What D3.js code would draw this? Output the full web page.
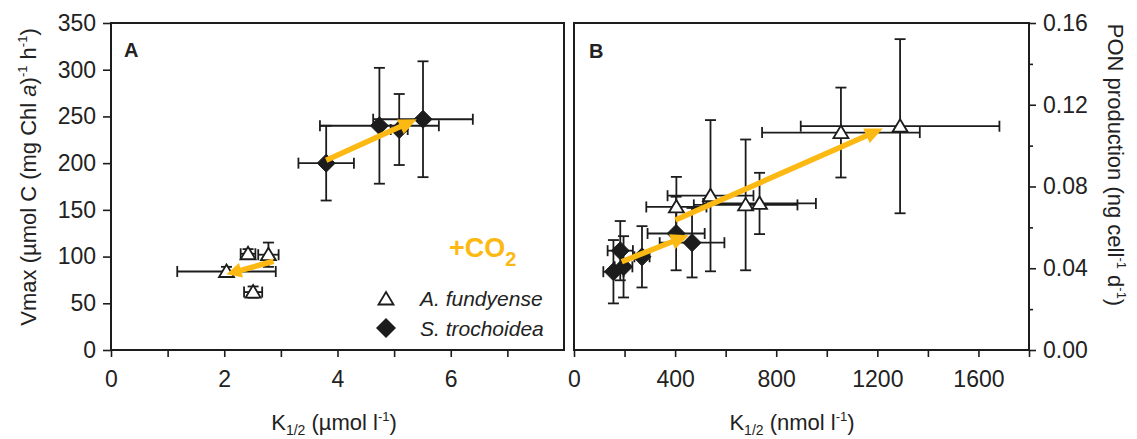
<!DOCTYPE html>
<html><head><meta charset="utf-8">
<script src="https://cdn.jsdelivr.net/npm/d3@7"></script>
<style>
body{margin:0;background:#fff}
svg{display:block}
text{font-family:Arial,"Liberation Sans",sans-serif;fill:#222}
</style>
</head><body>
<svg id="c" width="1137" height="439"></svg>
<script>
// ---------- Panel A data: Vmax vs K1/2 (µmol l-1) ----------
const aFundK     = [2.04, 2.42, 2.78, 2.51];
const aFundKErr  = [0.87, 0.13, 0.18, 0.16];
const aFundV     = [84, 103, 102, 62];
const aFundVErr  = [5, 5, 13, 6];
const aTrocK     = [3.80, 4.74, 5.09, 5.51];
const aTrocKErr  = [0.49, 1.05, 0.15, 0.88];
const aTrocV     = [200, 240, 236, 247];
const aTrocVErr  = [40, 62, 38, 62];

// ---------- Panel B data: PON production vs K1/2 (nmol l-1) ----------
const bFundK     = [405, 540, 679, 734, 1056, 1290];
const bFundKErr  = [119, 170, 205, 223, 312, 393];
const bFundP     = [0.0700, 0.0755, 0.0710, 0.0717, 0.1064, 0.1095];
const bFundPErr  = [0.0147, 0.0370, 0.0320, 0.0150, 0.0220, 0.0426];
const bTrocK     = [156, 183, 196, 269, 404, 467];
const bTrocKErr  = [40, 50, 35, 30, 113, 128];
const bTrocP     = [0.0383, 0.0486, 0.0407, 0.0456, 0.0570, 0.0525];
const bTrocPErr  = [0.0155, 0.0145, 0.0150, 0.0150, 0.0180, 0.0170];

// CO2 arrows (data coordinates: [start],[end])
const arrowATroc = [[3.80, 203], [5.40, 247]];
const arrowAFund = [[2.87, 95], [2.04, 81]];
const arrowBTroc = [[189, 0.0432], [454, 0.0562]];
const arrowBFund = [[401, 0.0636], [1222, 0.1084]];

// ticks
const aYTicks = [0, 50, 100, 150, 200, 250, 300, 350];
const aXTicks = [0, 1, 2, 3, 4, 5, 6, 7];
const aXLabels = [0, 2, 4, 6];
const bXTicks = [0, 200, 400, 600, 800, 1000, 1200, 1400, 1600, 1800];
const bXLabels = [0, 400, 800, 1200, 1600];
const bYMajor = [0, 0.04, 0.08, 0.12, 0.16];
const bYMinor = [0.02, 0.06, 0.10, 0.14];

const legendNames = ["A. fundyense", "S. trochoidea"];

// ---------- drawing ----------
const svg = d3.select("#c");
const INK = "#1c1c1c", GOLD = "#FDB913";
const FS = 23;

const plotTop = 23, plotBottom = 350;
const xA = d3.scaleLinear([0, 8], [111, 564]);
const yA = d3.scaleLinear([0, 350], [plotBottom, plotTop]);
const xB = d3.scaleLinear([0, 1800], [574, 1029]);
const yB = d3.scaleLinear([0, 0.16], [plotBottom, plotTop]);

function styleAxis(g, fs) {
  g.select(".domain").remove();
  g.selectAll(".tick line").attr("stroke", INK).attr("stroke-width", 1.6);
  g.selectAll(".tick text").attr("font-size", fs).attr("fill", "#222")
    .attr("font-family", "Arial, 'Liberation Sans', sans-serif");
}

// Panel A axes
svg.append("g").attr("transform", `translate(${xA.range()[0]},0)`)
  .call(d3.axisLeft(yA).tickValues(aYTicks).tickSize(8).tickPadding(7).tickFormat(d3.format("d")))
  .call(g => styleAxis(g, FS));
svg.append("g").attr("transform", `translate(0,${plotBottom})`)
  .call(d3.axisBottom(xA).tickValues(aXTicks).tickSize(7).tickPadding(14)
    .tickFormat(d => aXLabels.includes(d) ? d3.format("d")(d) : ""))
  .call(g => styleAxis(g, FS));

// Panel B axes
svg.append("g").attr("transform", `translate(0,${plotBottom})`)
  .call(d3.axisBottom(xB).tickValues(bXTicks).tickSize(7).tickPadding(14)
    .tickFormat(d => bXLabels.includes(d) ? d3.format("d")(d) : ""))
  .call(g => styleAxis(g, FS));
svg.append("g").attr("transform", `translate(${xB.range()[1]},0)`)
  .call(d3.axisRight(yB).tickValues(bYMajor).tickSize(7).tickPadding(7).tickFormat(d3.format(".2f")))
  .call(g => styleAxis(g, FS));
svg.append("g").attr("transform", `translate(${xB.range()[1]},0)`)
  .call(d3.axisRight(yB).tickValues(bYMinor).tickSize(4).tickFormat(""))
  .call(g => styleAxis(g, FS));

// frames
[[xA, yA], [xB, yB]].forEach(([x, y]) => {
  svg.append("rect")
    .attr("x", x.range()[0]).attr("y", y.range()[1])
    .attr("width", x.range()[1] - x.range()[0])
    .attr("height", y.range()[0] - y.range()[1])
    .attr("fill", "none").attr("stroke", INK).attr("stroke-width", 2);
});

// error bars
function errorBars(g, x, y, xs, xe, ys, ye) {
  const cap = 5.5;
  xs.forEach((xv, i) => {
    const px = x(xv), py = y(ys[i]);
    const xl = x(xv - xe[i]), xr = x(xv + xe[i]);
    const yt = y(ys[i] + ye[i]), yb = y(ys[i] - ye[i]);
    const segs = [
      [xl, py, xr, py], [xl, py - cap, xl, py + cap], [xr, py - cap, xr, py + cap],
      [px, yt, px, yb], [px - cap, yt, px + cap, yt], [px - cap, yb, px + cap, yb]
    ];
    g.selectAll(null).data(segs).join("line")
      .attr("x1", d => d[0]).attr("y1", d => d[1]).attr("x2", d => d[2]).attr("y2", d => d[3])
      .attr("stroke", INK).attr("stroke-width", 1.8);
  });
}
const triPath = "M0,-7L7.5,5.5L-7.5,5.5Z";
const diaPath = r => `M0,${-r}L${r},0L0,${r}L${-r},0Z`;

function markers(g, x, y, xs, ys, kind) {
  g.selectAll(null).data(xs.map((v, i) => [v, ys[i]])).join("path")
    .attr("transform", d => `translate(${x(d[0])},${y(d[1])})`)
    .attr("d", kind === "tri" ? triPath : diaPath(9))
    .attr("fill", kind === "tri" ? "#fff" : INK)
    .attr("stroke", INK).attr("stroke-width", kind === "tri" ? 1.8 : 1)
    .attr("stroke-linejoin", "miter");
}

function arrow(g, x, y, pts, hl, hw) {
  const x0 = x(pts[0][0]), y0 = y(pts[0][1]);
  const x1 = x(pts[1][0]), y1 = y(pts[1][1]);
  const dx = x1 - x0, dy = y1 - y0, L = Math.hypot(dx, dy), ux = dx / L, uy = dy / L;
  const bx = x1 - ux * hl, by = y1 - uy * hl;
  g.append("line").attr("x1", x0).attr("y1", y0).attr("x2", bx + ux * 2).attr("y2", by + uy * 2)
    .attr("stroke", GOLD).attr("stroke-width", 5.5);
  g.append("path")
    .attr("d", `M${x1},${y1}L${bx - uy * hw},${by + ux * hw}L${bx + uy * hw},${by - ux * hw}Z`)
    .attr("fill", GOLD);
}

const gA = svg.append("g"), gB = svg.append("g");
errorBars(gA, xA, yA, aFundK, aFundKErr, aFundV, aFundVErr);
errorBars(gA, xA, yA, aTrocK, aTrocKErr, aTrocV, aTrocVErr);
markers(gA, xA, yA, aTrocK, aTrocV, "dia");
markers(gA, xA, yA, aFundK, aFundV, "tri");
arrow(gA, xA, yA, arrowATroc, 18, 8);
arrow(gA, xA, yA, arrowAFund, 15, 7.5);

errorBars(gB, xB, yB, bTrocK, bTrocKErr, bTrocP, bTrocPErr);
errorBars(gB, xB, yB, bFundK, bFundKErr, bFundP, bFundPErr);
markers(gB, xB, yB, bTrocK, bTrocP, "dia");
markers(gB, xB, yB, bFundK, bFundP, "tri");
arrow(gB, xB, yB, arrowBTroc, 18, 8);
arrow(gB, xB, yB, arrowBFund, 18, 8);

// panel letters
svg.append("text").attr("x", 124).attr("y", 57).attr("font-size", 20).attr("font-weight", "bold").text("A");
svg.append("text").attr("x", 589).attr("y", 58).attr("font-size", 20).attr("font-weight", "bold").text("B");

// +CO2
const co2 = svg.append("text").attr("x", 449).attr("y", 257).attr("font-size", 27)
  .attr("font-weight", "bold").style("fill", GOLD);
co2.append("tspan").text("+CO");
co2.append("tspan").attr("font-size", 20).attr("dy", 9).text("2");

// legend
const lg = svg.append("g");
lg.append("path").attr("transform", "translate(386,299)").attr("d", triPath)
  .attr("fill", "#fff").attr("stroke", INK).attr("stroke-width", 1.8);
lg.append("path").attr("transform", "translate(386,328)").attr("d", diaPath(10))
  .attr("fill", INK);
lg.append("text").attr("x", 420).attr("y", 306).attr("font-size", 21).attr("font-style", "italic").text(legendNames[0]);
lg.append("text").attr("x", 420).attr("y", 336).attr("font-size", 21).attr("font-style", "italic").text(legendNames[1]);

// axis titles
function kTitle(cx, unit) {
  const t = svg.append("text").attr("x", cx).attr("y", 430).attr("font-size", 22).attr("text-anchor", "middle");
  t.append("tspan").text("K");
  t.append("tspan").attr("font-size", 14).attr("dy", 5).text("1/2");
  t.append("tspan").attr("dy", -5).text(` (${unit} l`);
  t.append("tspan").attr("font-size", 13).attr("dy", -9).text("-1");
  t.append("tspan").attr("dy", 9).text(")");
}
kTitle(334, "µmol");
kTitle(792, "nmol");

const yt = svg.append("text").attr("transform", "translate(36,177) rotate(-90)")
  .attr("font-size", 22).attr("text-anchor", "middle");
yt.append("tspan").text("Vmax (µmol C (mg Chl ");
yt.append("tspan").attr("font-style", "italic").text("a");
yt.append("tspan").text(")");
yt.append("tspan").attr("font-size", 13).attr("dy", -9).text("-1");
yt.append("tspan").attr("dy", 9).text(" h");
yt.append("tspan").attr("font-size", 13).attr("dy", -9).text("-1");
yt.append("tspan").attr("dy", 9).text(")");

const rt = svg.append("text").attr("transform", "translate(1108,165) rotate(90)")
  .attr("font-size", 22).attr("text-anchor", "middle");
rt.append("tspan").text("PON production (ng cell");
rt.append("tspan").attr("font-size", 13).attr("dy", -9).text("-1");
rt.append("tspan").attr("dy", 9).text(" d");
rt.append("tspan").attr("font-size", 13).attr("dy", -9).text("-1");
rt.append("tspan").attr("dy", 9).text(")");
</script>
</body></html>
